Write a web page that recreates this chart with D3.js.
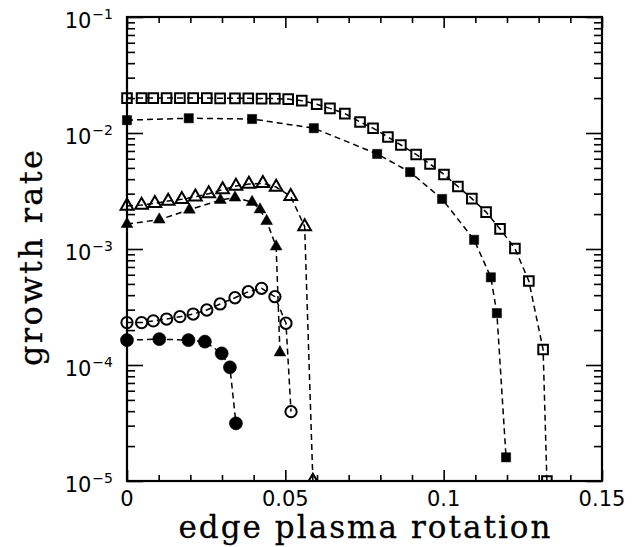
<!DOCTYPE html>
<html>
<head>
<meta charset="utf-8">
<script src="https://cdn.jsdelivr.net/npm/d3@7"></script>
<style>
  html, body { margin: 0; padding: 0; background: #fff; }
  svg { display: block; }
  .title { font-family: "DejaVu Serif", "Liberation Serif", serif; }
  .tick-label { font-family: "DejaVu Sans", sans-serif; }
</style>
</head>
<body>
<svg id="chart" width="643" height="547"></svg>
<script>
// ---------- data ----------
const xTickValues = [0, 0.05, 0.1, 0.15];
const xTickLabels = ["0", "0.05", "0.1", "0.15"];
const yTickExponents = [-1, -2, -3, -4, -5];
const yTickLabels = ["10", "10", "10", "10", "10"];
const yTickSupers = ["\u22121", "\u22122", "\u22123", "\u22124", "\u22125"];
const xTitle = "edge plasma rotation";
const yTitle = "growth rate";

// open squares
const openSqX = [0, 0.0046, 0.0083, 0.0125, 0.0167, 0.0209, 0.0252, 0.0294, 0.0341, 0.0383,
                 0.0425, 0.0467, 0.0509, 0.0552, 0.0599, 0.0641, 0.0688, 0.0736, 0.0777, 0.0824,
                 0.0865, 0.0913, 0.0957, 0.1001, 0.1045, 0.1089, 0.1134, 0.1178, 0.1225, 0.1269,
                 0.1314, 0.1326];
const openSqY = [0.0200, 0.0200, 0.0200, 0.0200, 0.0200, 0.0200, 0.0200, 0.0199, 0.0199, 0.0199,
                 0.0198, 0.0198, 0.0196, 0.0190, 0.0177, 0.0163, 0.0147, 0.01245, 0.0110, 0.00924,
                 0.00788, 0.00653, 0.00541, 0.00439, 0.00346, 0.00272, 0.00208, 0.00149, 0.00101, 0.00053,
                 0.000136, 0.00001];
// filled squares
const fillSqX = [0, 0.0195, 0.0395, 0.059, 0.079, 0.0894, 0.0995, 0.1096, 0.1149, 0.1168, 0.1197];
const fillSqY = [0.0129, 0.0134, 0.0132, 0.0110, 0.0066, 0.0046, 0.0027, 0.0012, 0.00057, 0.00028, 0.000016];
// open triangles
const openTriX = [0, 0.0046, 0.0088, 0.0130, 0.0173, 0.0216, 0.0258, 0.0302, 0.0344, 0.0385,
                  0.0429, 0.0471, 0.0517, 0.0561, 0.0587];
const openTriY = [0.00235, 0.00239, 0.00248, 0.00259, 0.00268, 0.00282, 0.00300, 0.00325, 0.00349, 0.00363,
                  0.00368, 0.00342, 0.00284, 0.00156, 0.00001];
// filled triangles
const fillTriX = [0, 0.0102, 0.0197, 0.0295, 0.0341, 0.0395, 0.042, 0.0441, 0.0471, 0.0483];
const fillTriY = [0.00164, 0.00179, 0.00218, 0.00264, 0.00277, 0.00254, 0.00219, 0.00174, 0.00105, 0.000128];
// open circles
const openCirX = [0, 0.0046, 0.0083, 0.0125, 0.0167, 0.0209, 0.0252, 0.0294, 0.0341, 0.0383,
                  0.0425, 0.0467, 0.0502, 0.0518];
const openCirY = [0.000232, 0.000232, 0.000240, 0.000249, 0.000261, 0.000275, 0.000298, 0.000336, 0.000380, 0.000428,
                  0.000458, 0.000388, 0.000229, 0.0000396];
// filled circles
const fillCirX = [0, 0.0102, 0.0194, 0.0246, 0.0299, 0.0325, 0.0344];
const fillCirY = [0.000164, 0.000167, 0.000164, 0.000159, 0.000126, 0.0000955, 0.0000314];

// ---------- layout ----------
const W = 643, H = 547;
const L = 127, R = 602, T = 17, B = 481;

const svg = d3.select("#chart");
const x = d3.scaleLinear().domain([0, 0.15]).range([L, R]);
const y = d3.scaleLog().domain([1e-5, 1e-1]).range([B, T]);

const series = [
  { xs: openSqX,  ys: openSqY,  sym: d3.symbolSquare,   size: 92,  filled: false },
  { xs: fillSqX,  ys: fillSqY,  sym: d3.symbolSquare,   size: 85,  filled: true  },
  { xs: openTriX, ys: openTriY, sym: d3.symbolTriangle, size: 70,  filled: false },
  { xs: fillTriX, ys: fillTriY, sym: d3.symbolTriangle, size: 60,  filled: true  },
  { xs: openCirX, ys: openCirY, sym: d3.symbolCircle,   size: 100, filled: false },
  { xs: fillCirX, ys: fillCirY, sym: d3.symbolCircle,   size: 135, filled: true  }
];

svg.append("defs").append("clipPath").attr("id", "clip")
  .append("rect").attr("x", 0).attr("y", 0).attr("width", W).attr("height", B);

const plot = svg.append("g").attr("clip-path", "url(#clip)");

const line = d3.line().x(d => x(d[0])).y(d => y(d[1]));

series.forEach(s => {
  const pts = s.xs.map((v, i) => [v, s.ys[i]]);
  plot.append("path")
    .datum(pts)
    .attr("d", line)
    .attr("fill", "none")
    .attr("stroke", "#000")
    .attr("stroke-width", 1.5)
    .attr("stroke-dasharray", "6,4");
});

series.forEach(s => {
  const pts = s.xs.map((v, i) => [v, s.ys[i]]);
  plot.selectAll(null)
    .data(pts)
    .enter()
    .append("path")
    .attr("transform", d => `translate(${x(d[0])},${y(d[1])})`)
    .attr("d", d3.symbol().type(s.sym).size(s.size))
    .attr("fill", s.filled ? "#000" : "none")
    .attr("stroke", "#000")
    .attr("stroke-width", s.filled ? 0.5 : 2);
});

// ---------- axes (ticks inward on all sides) ----------
const yMinor = y.ticks().filter(v => !yTickExponents.some(e => Math.abs(v - Math.pow(10, e)) < 1e-12));
const yMajor = yTickExponents.map(e => Math.pow(10, e));
const xMinor = d3.range(0, 16).map(i => i / 100).filter(v => !xTickValues.some(t => Math.abs(t - v) < 1e-9));

function styleAxis(g) {
  g.select(".domain").remove();
  g.selectAll(".tick line").attr("stroke", "#000").attr("stroke-width", 1.6);
  g.selectAll(".tick text").remove();
}

svg.append("g").attr("transform", `translate(${L},0)`)
  .call(d3.axisLeft(y).tickValues(yMinor).tickSize(-8)).call(styleAxis);
svg.append("g").attr("transform", `translate(${L},0)`)
  .call(d3.axisLeft(y).tickValues(yMajor).tickSize(-16)).call(styleAxis);
svg.append("g").attr("transform", `translate(${R},0)`)
  .call(d3.axisRight(y).tickValues(yMinor).tickSize(-8)).call(styleAxis);
svg.append("g").attr("transform", `translate(${R},0)`)
  .call(d3.axisRight(y).tickValues(yMajor).tickSize(-16)).call(styleAxis);

svg.append("g").attr("transform", `translate(0,${B})`)
  .call(d3.axisBottom(x).tickValues(xMinor).tickSize(-6)).call(styleAxis);
svg.append("g").attr("transform", `translate(0,${B})`)
  .call(d3.axisBottom(x).tickValues(xTickValues).tickSize(-11)).call(styleAxis);
svg.append("g").attr("transform", `translate(0,${T})`)
  .call(d3.axisTop(x).tickValues(xMinor).tickSize(-6)).call(styleAxis);
svg.append("g").attr("transform", `translate(0,${T})`)
  .call(d3.axisTop(x).tickValues(xTickValues).tickSize(-11)).call(styleAxis);

// frame
svg.append("rect")
  .attr("x", L).attr("y", T).attr("width", R - L).attr("height", B - T)
  .attr("fill", "none").attr("stroke", "#000").attr("stroke-width", 2.2);

// x tick labels
svg.append("g").selectAll("text")
  .data(xTickValues)
  .enter().append("text")
  .attr("class", "tick-label")
  .attr("x", d => x(d))
  .attr("y", B + 25)
  .attr("text-anchor", "middle")
  .attr("font-size", 21)
  .attr("fill", "#000")
  .text((d, i) => xTickLabels[i]);

// y tick labels with superscripts
const yl = svg.append("g").selectAll("text")
  .data(yTickExponents)
  .enter().append("text")
  .attr("class", "tick-label")
  .attr("x", 113)
  .attr("y", e => y(Math.pow(10, e)) + 11)
  .attr("text-anchor", "end")
  .attr("font-size", 21)
  .attr("fill", "#000");
yl.append("tspan").text((e, i) => yTickLabels[i]);
yl.append("tspan").attr("dy", -9).attr("dx", 1).attr("font-size", 14).text((e, i) => yTickSupers[i]);

// axis titles (typewriter-like: serif with stretched spacing)
svg.append("text")
  .attr("class", "title")
  .attr("x", (L + R) / 2)
  .attr("y", 538)
  .attr("text-anchor", "middle")
  .attr("font-size", 31)
  .attr("textLength", 372)
  .attr("lengthAdjust", "spacing")
  .attr("stroke", "#000").attr("stroke-width", 0.3)
  .attr("fill", "#000")
  .text(xTitle);

svg.append("text")
  .attr("class", "title")
  .attr("transform", `translate(42,258) rotate(-90)`)
  .attr("text-anchor", "middle")
  .attr("font-size", 32)
  .attr("textLength", 216)
  .attr("lengthAdjust", "spacing")
  .attr("stroke", "#000").attr("stroke-width", 0.3)
  .attr("fill", "#000")
  .text(yTitle);
</script>
</body>
</html>
